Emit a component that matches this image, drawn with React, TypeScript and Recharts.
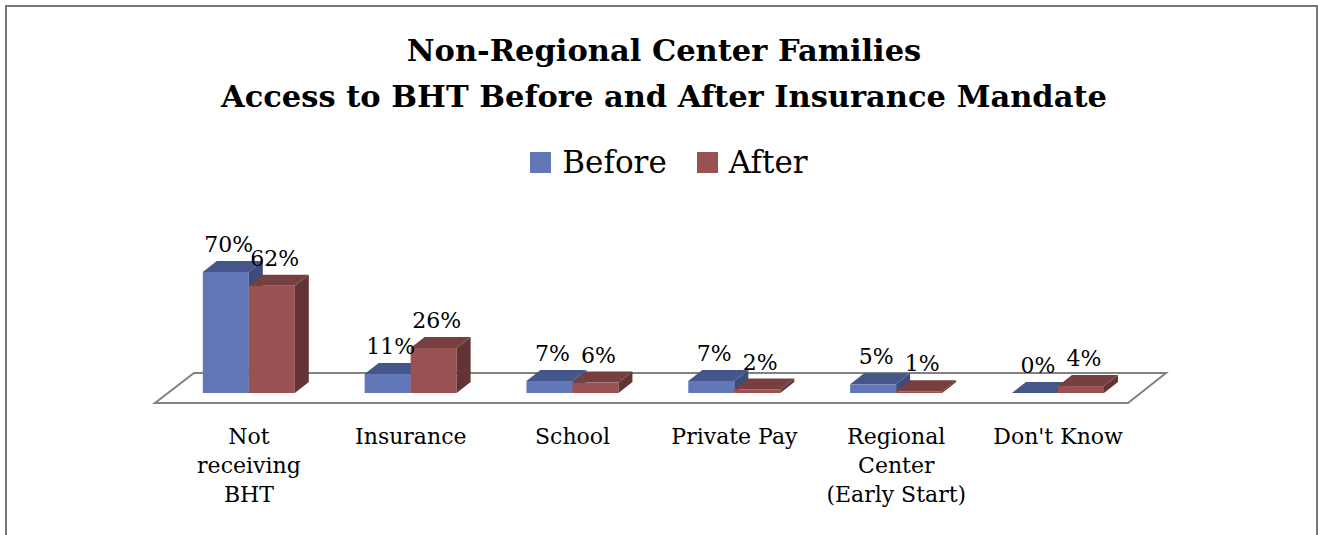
import { BarChart, Bar, XAxis, YAxis, LabelList } from 'recharts';

const categories = [
  ['Not', 'receiving', 'BHT'],
  ['Insurance'],
  ['School'],
  ['Private Pay'],
  ['Regional', 'Center', '(Early Start)'],
  ["Don't Know"],
];
const beforeValues = [70, 11, 7, 7, 5, 0];
const afterValues = [62, 26, 6, 2, 1, 4];

const data = categories.map((lines, i) => ({
  name: lines.join(' '),
  lines,
  before: beforeValues[i],
  after: afterValues[i],
}));

const FONT = '"DejaVu Serif", serif';
const DX = 14;
const DY = 11;

// bar with a fake 3D top and side
function Bar3D(colors: { front: string; top: string; side: string }) {
  return (props: any) => {
    const { x, y, width, height } = props;
    const w = width;
    const h = Math.max(height, 0);
    return (
      <g>
        <rect x={x} y={y} width={w} height={h} fill={colors.front} />
        <polygon
          points={`${x + w},${y} ${x + w + DX},${y - DY} ${x + w + DX},${y + h - DY} ${x + w},${y + h}`}
          fill={colors.side}
        />
        <polygon
          points={`${x},${y} ${x + DX},${y - DY} ${x + w + DX},${y - DY} ${x + w},${y}`}
          fill={colors.top}
        />
      </g>
    );
  };
}

const blue = { front: '#6177b8', top: '#45568a', side: '#3c4b79' };
const red = { front: '#9a5151', top: '#773f3f', side: '#633434' };

function ValueLabel(props: any) {
  const { x, y, width, value } = props;
  return (
    <text
      x={x + width / 2 + 3}
      y={y - 20}
      textAnchor="middle"
      fontFamily={FONT}
      fontSize={22}
      fill="#000"
    >
      {value}%
    </text>
  );
}

function CategoryTick(props: any) {
  const { x, y, payload } = props;
  const lines = categories[payload.index] || [payload.value];
  return (
    <g>
      {lines.map((l, i) => (
        <text
          key={i}
          x={x}
          y={y + 51 + i * 29}
          textAnchor="middle"
          fontFamily={FONT}
          fontSize={22}
          fill="#000"
        >
          {l}
        </text>
      ))}
    </g>
  );
}

export default function App() {
  return (
    <div
      style={{
        position: 'fixed',
        left: 0,
        top: 0,
        width: 1318,
        height: 535,
        overflow: 'hidden',
        background: '#fff',
      }}
    >
      <div
        style={{
          position: 'absolute',
          left: 5,
          top: 5,
          width: 1309,
          height: 600,
          border: '2px solid #767676',
        }}
      />
      <div
        style={{
          position: 'absolute',
          left: 5,
          top: 27,
          width: 1318,
          textAlign: 'center',
          fontFamily: FONT,
          fontWeight: 'bold',
          fontSize: 30.5,
          lineHeight: '46px',
          color: '#000',
        }}
      >
        Non-Regional Center Families
        <br />
        Access to BHT Before and After Insurance Mandate
      </div>
      <div
        style={{
          position: 'absolute',
          left: 10,
          top: 142,
          width: 1318,
          display: 'flex',
          justifyContent: 'center',
          fontFamily: FONT,
          fontSize: 31,
          lineHeight: '40px',
          color: '#000',
        }}
      >
        <span style={{ display: 'flex', alignItems: 'center', marginRight: 30 }}>
          <span style={{ width: 21, height: 21, background: blue.front, marginRight: 11 }} />
          Before
        </span>
        <span style={{ display: 'flex', alignItems: 'center' }}>
          <span style={{ width: 21, height: 21, background: red.front, marginRight: 11 }} />
          After
        </span>
      </div>
      <svg
        width={1318}
        height={535}
        style={{ position: 'absolute', left: 0, top: 0 }}
      >
        <polygon
          points="194,373 1166,373 1128,403 155,403"
          fill="#fff"
          stroke="#828282"
          strokeWidth={2}
        />
      </svg>
      <div style={{ position: 'absolute', left: 0, top: 0 }}>
        <BarChart
          width={1318}
          height={535}
          data={data}
          margin={{ top: 220, right: 179, bottom: 82, left: 168 }}
          barGap={0}
          barCategoryGap="21.5%"
        >
          <XAxis
            dataKey="name"
            axisLine={false}
            tickLine={false}
            tickSize={0}
            tickMargin={0}
            height={60}
            interval={0}
            tick={<CategoryTick />}
          />
          <YAxis hide domain={[0, 100]} />
          <Bar dataKey="before" shape={Bar3D(blue)} isAnimationActive={false}>
            <LabelList dataKey="before" content={<ValueLabel />} />
          </Bar>
          <Bar dataKey="after" shape={Bar3D(red)} isAnimationActive={false}>
            <LabelList dataKey="after" content={<ValueLabel />} />
          </Bar>
        </BarChart>
      </div>
    </div>
  );
}
